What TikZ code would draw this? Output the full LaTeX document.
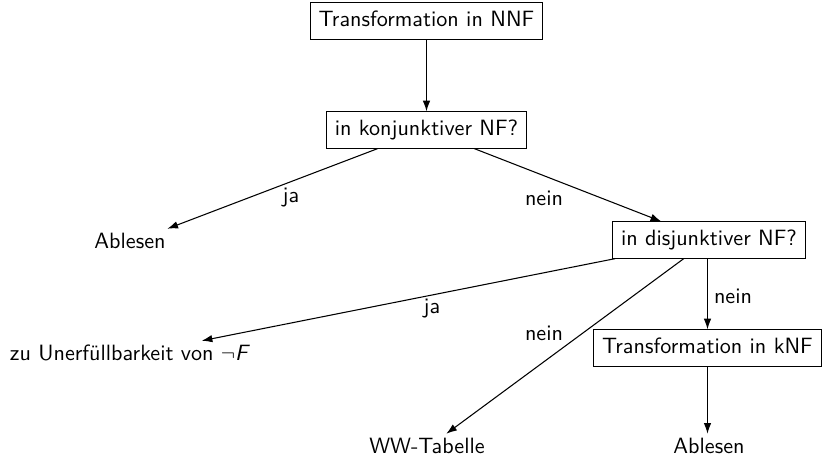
\documentclass[tikz,border=0pt]{standalone}
\usetikzlibrary{arrows.meta}
\begin{document}
\begin{tikzpicture}[x=0.47pt,y=-0.47pt,
  font=\sffamily\fontsize{10.4}{12.5}\selectfont,
  box/.style={draw,line width=0.5pt,inner xsep=4pt,inner ysep=4pt,text height=7pt,text depth=2pt},
  plain/.style={inner sep=2pt,text height=7pt,text depth=2pt},
  lbl/.style={inner sep=1pt},
  conn/.style={-{Latex[length=5pt,width=3.5pt]},line width=0.5pt}]
\useasboundingbox (0,0) rectangle (822,460);
\node[box] (nnf) at (426.5,21) {Transformation in NNF};
\node[box] (konj) at (426.5,130) {in konjunktiver NF?};
\node[plain] (abl1) at (130,243) {Ablesen};
\node[box] (disj) at (709,240) {in disjunktiver NF?};
\node[plain] (unerf) at (130,355) {zu Unerfüllbarkeit von $\neg$\textit{F}};
\node[plain] (ww) at (427,448) {WW-Tabelle};
\node[box] (knf) at (707.5,348) {Transformation in kNF};
\node[plain] (abl2) at (709,448) {Ablesen};
\draw[conn] (nnf) -- (konj);
\draw[conn] (konj) -- (abl1);
\draw[conn] (konj) -- (disj);
\draw[conn] (disj) -- (unerf);
\draw[conn] (disj) -- (ww);
\draw[conn] (disj.south -| knf) -- (knf);
\draw[conn] (knf) -- (abl2.north -| knf);
\node[lbl] at (291,198) {ja};
\node[lbl] at (544,198) {nein};
\node[lbl] at (432,309) {ja};
\node[lbl] at (544,333) {nein};
\node[lbl] at (733,296) {nein};
\end{tikzpicture}
\end{document}
